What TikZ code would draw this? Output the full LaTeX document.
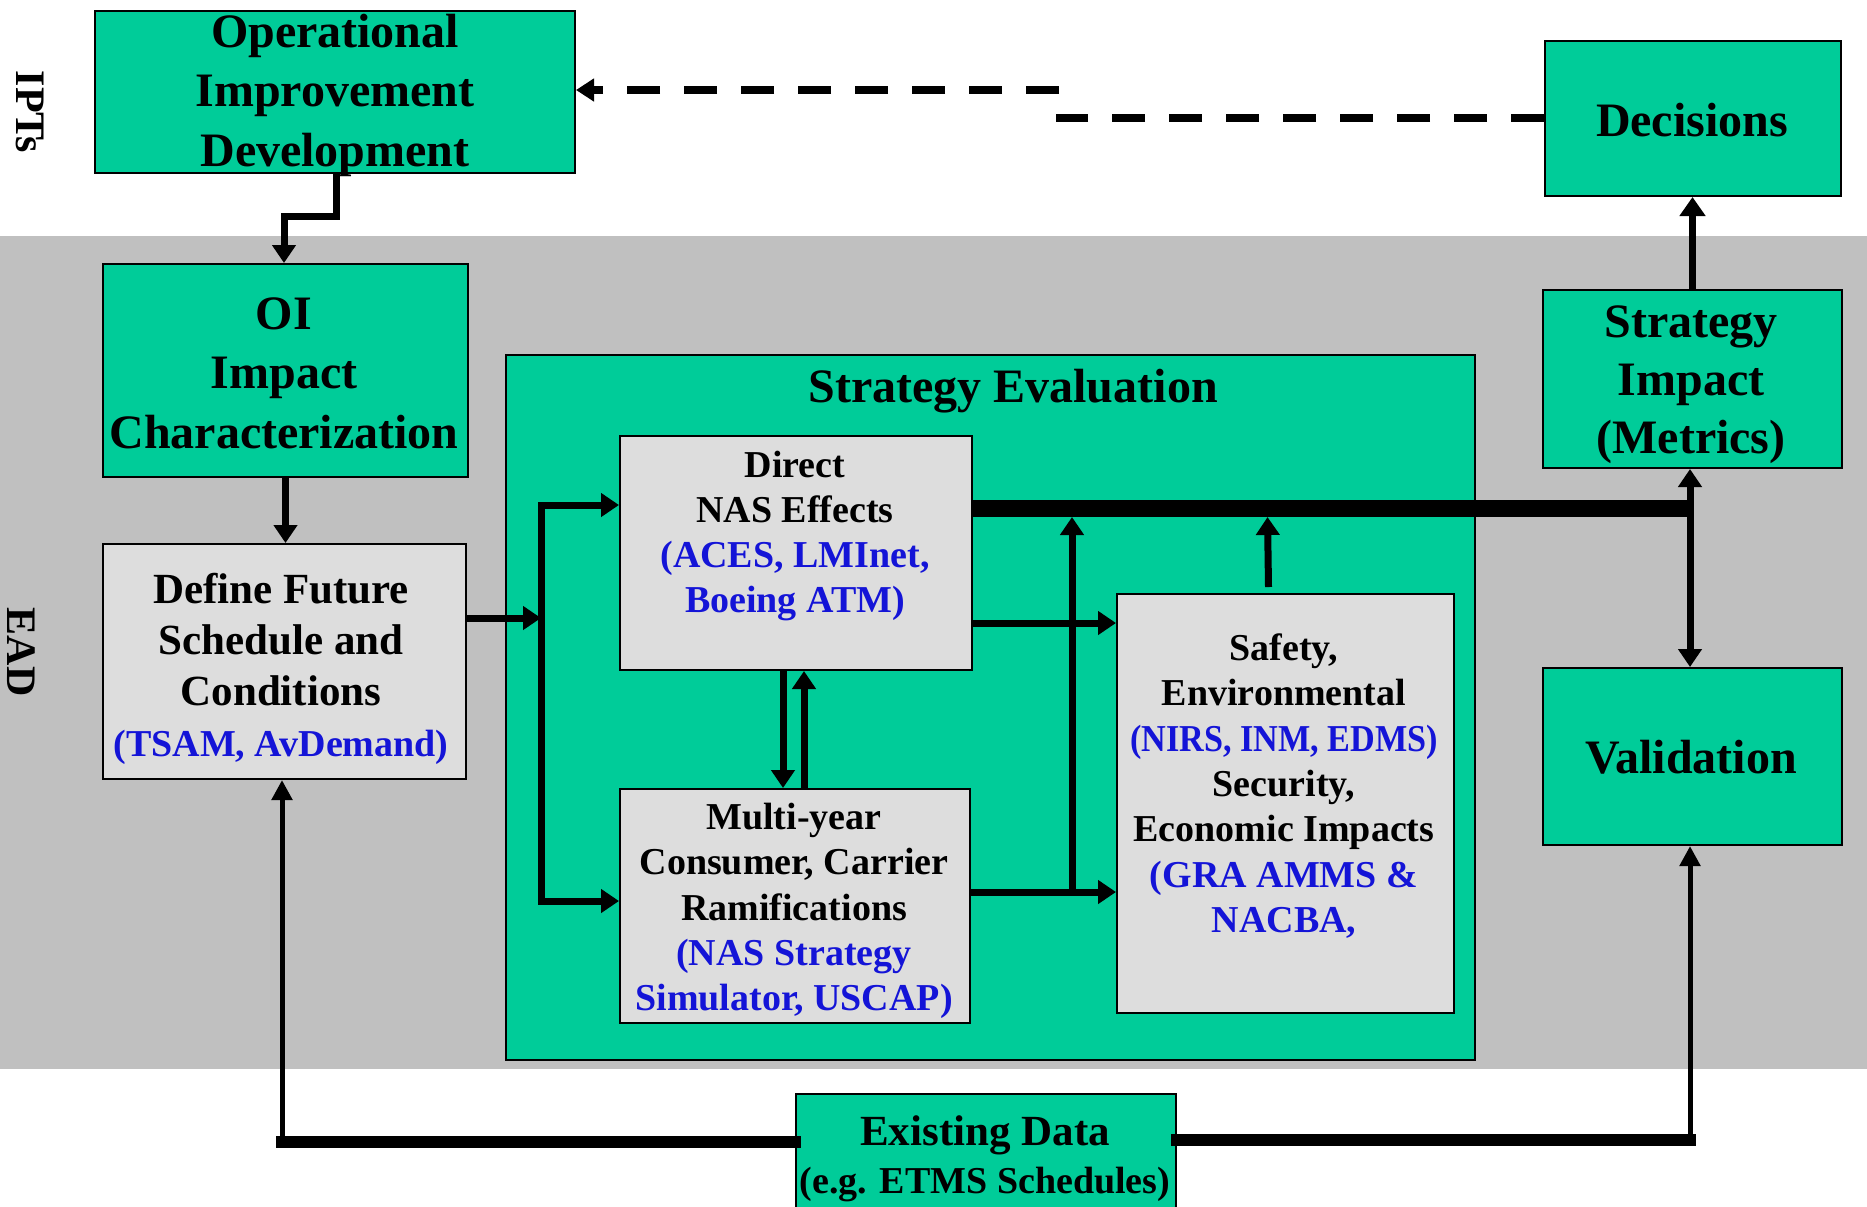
\documentclass[tikz,border=0pt]{standalone}
\usepackage{fontspec}
\setmainfont{Liberation Serif}
\usepackage{graphicx}
\usetikzlibrary{arrows.meta}
\definecolor{seagreen}{RGB}{0,204,153}
\definecolor{bandgrey}{RGB}{192,192,192}
\definecolor{boxgrey}{RGB}{221,221,221}
\definecolor{tooltext}{RGB}{20,20,215}

\begin{document}
\begin{tikzpicture}[x=0.5pt,y=-0.5pt,
  >={Triangle[width=11.5pt,length=9pt]},
  greenbox/.style={draw=black,line width=1pt,fill=seagreen,inner sep=0pt,anchor=north west},
  greybox/.style={draw=black,line width=1pt,fill=boxgrey,inner sep=0pt,anchor=north west},
  bigtext/.style={font=\bfseries\fontsize{24}{29.75}\selectfont,align=center,inner sep=0pt},
  smalltext/.style={font=\bfseries\fontsize{19}{22.65}\selectfont,align=center,inner sep=0pt},
  sidetext/.style={font=\bfseries\fontsize{21}{21}\selectfont,rotate=-90,anchor=base,inner sep=0pt},
  conn/.style={line width=3.5pt,->},
  twoway/.style={line width=3.5pt,<->},
  busline/.style={line width=8.5pt},
  dataline/.style={line width=5.75pt,line cap=rect},
  datariser/.style={line width=2.5pt,-{Triangle[width=10pt,length=10pt]}},
  dashline/.style={line width=4pt,dash pattern=on 16.5pt off 12pt},
]
\useasboundingbox (0,0) rectangle (1867,1206);
\fill[white] (0,0) rectangle (1867,1206);
% EAD band
\fill[bandgrey] (0,236) rectangle (1867,1069);

% side labels
\node[sidetext] (ipts) at (17,112) {IPTs};
\node[sidetext] (ead) at (8,652) {EAD};

% boxes
\node[greenbox,minimum width=240pt,minimum height=81pt] (oid) at (94,10) {};
\node[greenbox,minimum width=148pt,minimum height=77.5pt] (dec) at (1544,40) {};
\node[greenbox,minimum width=182.5pt,minimum height=106.5pt] (oi) at (102,263) {};
\node[greybox,minimum width=181.5pt,minimum height=117.5pt] (def) at (102,543) {};
\node[greenbox,minimum width=484.5pt,minimum height=352.5pt] (se) at (505,354) {};
\node[greybox,minimum width=176pt,minimum height=117pt] (direct) at (619,435) {};
\node[greybox,minimum width=175pt,minimum height=117pt] (multi) at (619,788) {};
\node[greybox,minimum width=168.5pt,minimum height=209.5pt] (safety) at (1116,593) {};
\node[greenbox,minimum width=149.5pt,minimum height=89pt] (simp) at (1542,289) {};
\node[greenbox,minimum width=149.5pt,minimum height=88.5pt] (valid) at (1542,667) {};
\node[greenbox,minimum width=190pt,minimum height=68.5pt] (exist) at (795,1093) {};

% box texts
\node[bigtext] (oid-t) at (335,95) {Operational\\Improvement\\Development};
\node[bigtext] (dec-t) at (1692,120) {Decisions};
\node[bigtext] (oi-t) at (284,373) {OI\\Impact\\Characterization};
\node[font=\bfseries\fontsize{21.5}{25.5}\selectfont,align=center,inner sep=0pt] (def-t) at (281,669)
  {Define Future\\Schedule and\\Conditions\\\textcolor{tooltext}{\fontsize{19}{25.5}\selectfont(TSAM, AvDemand)}};
\node[bigtext] (se-t) at (1013,391) {Strategy Evaluation};
\node[smalltext] (direct-t) at (795,536)
  {Direct\\NAS Effects\\\textcolor{tooltext}{(ACES, LMInet,}\\\textcolor{tooltext}{Boeing ATM)}};
\node[smalltext] (multi-t) at (794,911)
  {Multi-year\\Consumer, Carrier\\Ramifications\\\textcolor{tooltext}{(NAS Strategy}\\\textcolor{tooltext}{Simulator, USCAP)}};
\node[smalltext] (safety-t) at (1284,786)
  {Safety,\\Environmental\\\textcolor{tooltext}{\scalebox{0.9}[1]{(NIRS, INM, EDMS)}}\\Security,\\Economic Impacts\\\textcolor{tooltext}{(GRA AMMS \&}\\\textcolor{tooltext}{NACBA,}};
\node[font=\bfseries\fontsize{24}{29}\selectfont,align=center,inner sep=0pt] (simp-t) at (1691,385)
  {Strategy\\Impact\\(Metrics)};
\node[bigtext] (valid-t) at (1691,757) {Validation};
\node[font=\bfseries\fontsize{19}{24}\selectfont,align=center,inner sep=0pt] (exist-t) at (985,1159)
  {{\fontsize{21.5}{24}\selectfont Existing Data}\\(e.g. ETMS Schedules)};

% dashed feedback from decisions to OI development
\coordinate (d1) at (1056,118);
\coordinate (d2) at (1059,90);
\draw[dashline] (dec.west |- d1) -- (d1);
\draw[dashline,-{Triangle[width=11pt,length=9pt]}] (d2) -- (oid.east |- d2);

% OI development down to OI impact
\coordinate (k1) at (336,216);
\coordinate (k2) at (284,216);
\draw[conn] (oid.south -| k1) -- (k1) -- (k2) -- (oi.north -| k2);
\draw[conn] (oi.south) -- (oi.south |- def.north);

% schedule into the strategy evaluation bus
\coordinate (busin) at (541,618);
\coordinate (bustop) at (541,505);
\coordinate (busbot) at (541,901);
\draw[conn] (def.east |- busin) -- (busin);
\draw[twoway] (direct.west |- bustop) -- (bustop) -- (busbot) -- (multi.west |- busbot);

% direct effects <-> multi-year
\draw[conn] ([xshift=-6.5pt]direct.south) -- ([xshift=-6.5pt]direct.south |- multi.north);
\draw[conn] ([xshift=4pt]direct.south |- multi.north) -- ([xshift=4pt]direct.south);

% into safety / environmental
\coordinate (dsy) at (0,623);
\coordinate (msy) at (0,892);
\draw[conn] (direct.east |- dsy) -- (safety.west |- dsy);
\draw[conn] (multi.east |- msy) -- (safety.west |- msy);

% thick results bus
\coordinate (jr) at (1690,508);
\draw[busline] (direct.east |- jr) -- (jr);
\coordinate (ja) at (1072,892);
\coordinate (upa) at (1072,517);
\coordinate (upb) at (1267.5,517);
\draw[conn] (ja) -- (upa);
\draw[conn] ([xshift=-8.5pt,yshift=3pt]safety.north) -- (upb);
\draw[twoway] (simp.south -| jr) -- (valid.north -| jr);
\draw[conn,-{Triangle[width=12.5pt,length=9.5pt]}] (simp.north) -- (simp.north |- dec.south);

% existing data feeds
\coordinate (elc) at (282,1142);
\coordinate (erc) at (1690,1140);
\draw[dataline] (exist.west |- elc) -- (elc);
\draw[datariser] (elc) -- (def.south -| elc);
\draw[dataline] (exist.east |- erc) -- (erc);
\draw[datariser] (erc) -- (valid.south -| erc);
\end{tikzpicture}
\end{document}
